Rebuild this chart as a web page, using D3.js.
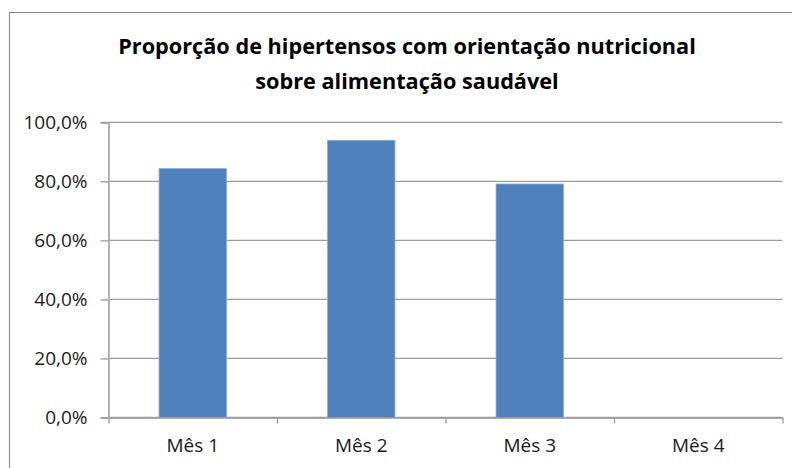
<!DOCTYPE html>
<html>
<head>
<meta charset="utf-8">
<script src="https://cdn.jsdelivr.net/npm/d3@7"></script>
<style>
  body { margin:0; background:#fff; }
  svg { display:block; font-family:"Open Sans", sans-serif; }
</style>
</head>
<body>
<div id="chart"></div>
<script>
// dados
const meses = ["Mês 1", "Mês 2", "Mês 3", "Mês 4"];
const proporcao = [0.843, 0.939, 0.791, 0];
const yTicks = [0, 0.2, 0.4, 0.6, 0.8, 1];
const titulo = ["Proporção de hipertensos com orientação nutricional", "sobre alimentação saudável"];

const w = 792, h = 468;
const plotL = 108.5, plotR = 782.5, plotT = 122.3, plotB = 417.5;

const ptBR = d3.formatLocale({decimal: ",", thousands: ".", grouping: [3], currency: ["R$", ""]});
const fmt = ptBR.format(".1%");

const svg = d3.select("#chart").append("svg")
  .attr("width", w).attr("height", h);

// moldura do gráfico (cortada à direita e embaixo)
svg.append("path")
  .attr("d", `M9.5,${h} V12.5 H${w}`)
  .attr("fill", "none").attr("stroke", "#8c8c8c").attr("stroke-width", 1.2);

const x = d3.scaleBand().domain(meses).range([plotL, plotR])
  .paddingInner(0.6).paddingOuter(0.3);
const yScale = d3.scaleLinear().domain([0, 1]).range([plotB, plotT]);

// linhas de grade
svg.append("g").selectAll("line").data(yTicks).enter().append("line")
  .attr("x1", plotL).attr("x2", plotR)
  .attr("y1", d => yScale(d)).attr("y2", d => yScale(d))
  .attr("stroke", "#9a9a9a").attr("stroke-width", 1.3);

// eixo y
const yAxis = d3.axisLeft(yScale).tickValues(yTicks).tickFormat(fmt).tickSize(8).tickPadding(13);
const gy = svg.append("g").attr("transform", `translate(${plotL},0)`).call(yAxis);
gy.select(".domain").attr("stroke", "#b3b3b3").attr("stroke-width", 2);
gy.selectAll(".tick line").attr("stroke", "#9a9a9a").attr("stroke-width", 1.3);
gy.selectAll(".tick text").attr("font-size", 19).attr("fill", "#1a1a1a")
  .attr("font-family", "'Open Sans', sans-serif");

// barras
svg.selectAll("rect.bar").data(proporcao).enter().append("rect")
  .attr("class", "bar")
  .attr("x", (d, i) => x(meses[i]))
  .attr("y", d => yScale(d))
  .attr("width", x.bandwidth())
  .attr("height", d => plotB - yScale(d))
  .attr("fill", "#4f81bd")
  .attr("stroke", "#8eaad6").attr("stroke-width", d => d > 0 ? 0.8 : 0);

// eixo x: marcas entre categorias
const limites = d3.scaleLinear().domain([0, meses.length]).range([plotL, plotR]);
const gb = svg.append("g").attr("transform", `translate(0,${plotB})`)
  .call(d3.axisBottom(limites).tickValues(d3.range(meses.length + 1)).tickFormat("").tickSize(6));
gb.select(".domain").remove();
gb.selectAll(".tick line").attr("stroke", "#9a9a9a").attr("stroke-width", 1.3);

const gx = svg.append("g").attr("transform", `translate(0,${plotB})`)
  .call(d3.axisBottom(x).tickSize(0).tickPadding(21));
gx.select(".domain").attr("stroke", "#9a9a9a").attr("stroke-width", 1.3);
gx.selectAll(".tick text").attr("font-size", 19).attr("fill", "#1a1a1a")
  .attr("font-family", "'Open Sans', sans-serif");

// título
svg.append("g").selectAll("text").data(titulo).enter().append("text")
  .attr("x", 407).attr("y", (d, i) => 54 + i * 35)
  .attr("text-anchor", "middle")
  .attr("font-size", 21.7).attr("font-weight", "bold").attr("fill", "#000")
  .text(d => d);
</script>
</body>
</html>
